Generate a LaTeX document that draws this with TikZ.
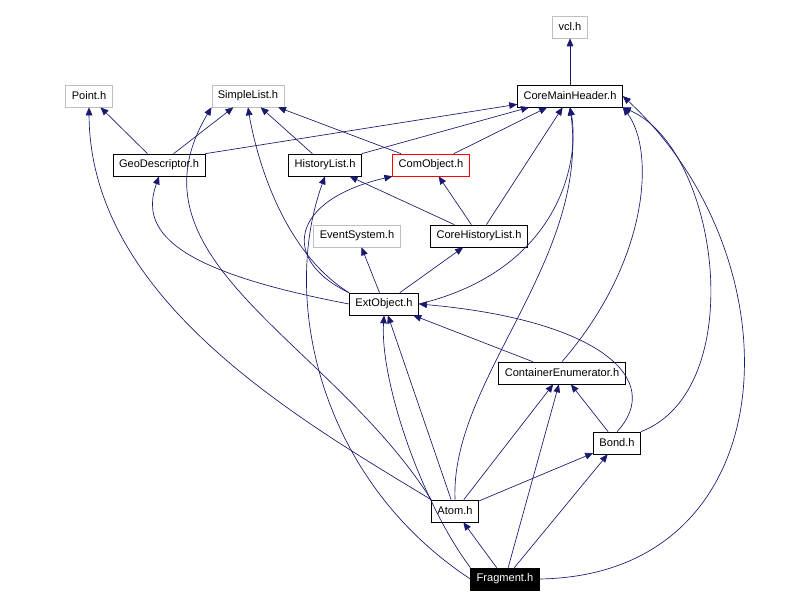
\documentclass[tikz,border=0pt]{standalone}
\usepackage{fontspec}
\setmainfont{Liberation Sans}
\usetikzlibrary{arrows.meta}

\tikzset{
  hdr/.style={draw=black, fill=white, inner xsep=4.5pt, inner ysep=2.5pt, minimum height=16.5pt, font=\fontsize{8.3}{10}\selectfont},
  ext/.style={hdr, draw=gray!50},
  dep/.style={draw=midnightblue, -{Triangle[length=6pt,width=5pt]}, fill=none}
}
\definecolor{midnightblue}{RGB}{25,25,112}

\begin{document}
\begin{tikzpicture}[x=0.75pt,y=-0.75pt, line width=0.5pt]
        \useasboundingbox (0,0) rectangle (791,609);

        % Headers:
        \node [ext] (vcl) at (570,27) {vcl.h};
        \node [ext] (point) at (89,96) {Point.h};
        \node [ext] (slist) at (248,96) {SimpleList.h};
        \node [hdr] (core) at (570,96) {CoreMainHeader.h};
        \node [hdr] (geo) at (159,165) {GeoDescriptor.h};
        \node [hdr] (hist) at (325,165) {HistoryList.h};
        \node [hdr, draw=red] (com) at (431,165) {ComObject.h};
        \node [ext] (evt) at (357,236) {EventSystem.h};
        \node [hdr] (chist) at (479,236) {CoreHistoryList.h};
        \node [hdr] (ext) at (384,304) {ExtObject.h};
        \node [hdr] (cenum) at (562,373) {ContainerEnumerator.h};
        \node [hdr] (bond) at (617,443) {Bond.h};
        \node [hdr] (atom) at (455,511) {Atom.h};
        \node [hdr, fill=black, text=white] (frag) at (505,579) {Fragment.h};

        % Straight includes:
        \draw [dep] (core) -- (vcl);
        \draw [dep] (geo) -- (point);
        \draw [dep] (geo) -- (slist);
        \draw [dep] (geo.north east) -- (core);
        \draw [dep] (hist) -- (slist);
        \draw [dep] (hist.north east) -- (core);
        \draw [dep] (com) -- (slist);
        \draw [dep] (com) -- (core);
        \draw [dep] (chist) -- (hist);
        \draw [dep] (chist) -- (com);
        \draw [dep] (chist) -- (core);
        \draw [dep] (ext) -- (evt);
        \draw [dep] (ext) -- (chist);
        \draw [dep] (cenum) -- (ext);
        \draw [dep] (bond) -- (cenum);
        \draw [dep] (atom) -- (ext);
        \draw [dep] (atom) -- (cenum);
        \draw [dep] (atom) -- (bond);
        \draw [dep] (frag) -- (atom);
        \draw [dep] (frag) -- (bond);
        \draw [dep] (frag) -- (cenum);

        % Curved includes:
        \draw [dep] (ext.west) .. controls (170,270) and (140,230) .. (geo.south);
        \draw [dep] (ext.north west) .. controls (280,250) and (255,150) .. (slist.south);
        \draw [dep] (ext.north west) .. controls (280,260) and (290,200) .. (com.south west);
        \draw [dep] (ext.east) .. controls (560,270) and (580,160) .. (core.south);
        \draw [dep] (cenum.north) .. controls (650,260) and (655,150) .. (core.south east);
        \draw [dep] (bond.north) .. controls (665,380) and (600,320) .. (ext.east);
        \draw [dep] (bond.north east) .. controls (750,390) and (720,150) .. (core.south east);
        \draw [dep] (atom.north west) .. controls (300,420) and (90,300) .. (point.south);
        \draw [dep] (atom.north west) .. controls (330,340) and (120,260) .. (slist.south west);
        \draw [dep] (atom.north) .. controls (450,380) and (590,260) .. (core.south);
        \draw [dep] (frag.west) .. controls (320,480) and (280,300) .. (hist.south);
        \draw [dep] (frag.north west) .. controls (420,500) and (380,380) .. (ext.south);
        \draw [dep] (frag.east) .. controls (790,575) and (800,260) .. (core.east);
\end{tikzpicture}
\end{document}
